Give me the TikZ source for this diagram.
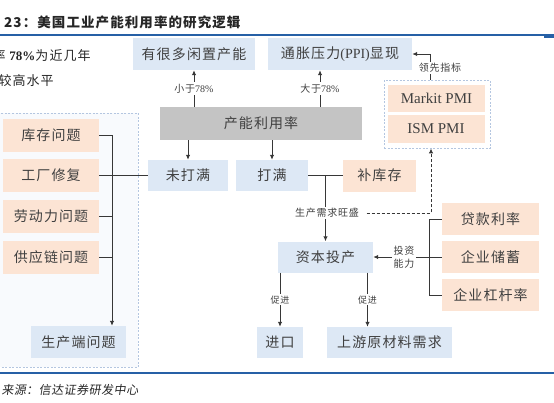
\documentclass[tikz,border=0pt]{standalone}
\usepackage{fontspec}
\setmainfont{Liberation Serif}
\newfontfamily\cjk[LetterSpace=8]{Noto Sans CJK SC}
\newfontfamily\cjkslant[LetterSpace=4,FakeSlant=0.15]{Noto Sans CJK SC}
\usepackage{tikz}
\usetikzlibrary{arrows.meta}

\definecolor{boxblue}{RGB}{221,232,245}
\definecolor{boxpeach}{RGB}{252,228,212}
\definecolor{boxgray}{RGB}{196,196,196}
\definecolor{rulebl}{RGB}{38,96,166}
\definecolor{dashbl}{RGB}{180,198,224}
\definecolor{txt}{RGB}{64,64,64}
\definecolor{linegray}{RGB}{55,55,55}

\begin{document}
\begin{tikzpicture}[
    x=1pt, y=-1pt, % pixel grid of the page, y going down
    box/.style      = {minimum height=32pt, inner sep=0pt, text=txt, font=\cjk\fontsize{14}{16}\selectfont},
    bluebox/.style  = {box, fill=boxblue},
    peachbox/.style = {box, fill=boxpeach},
    graybox/.style  = {box, fill=boxgray},
    pmibox/.style   = {box, fill=boxpeach, minimum width=97pt, minimum height=27pt, font=\rmfamily\fontsize{15}{17}\selectfont},
    grp/.style      = {draw=dashbl, line width=0.8pt, dash pattern=on 2pt off 1.5pt},
    line/.style     = {draw=linegray, line width=1pt},
    arr/.style      = {line, -{Latex[length=5pt,width=4.5pt]}},
    dasharr/.style  = {arr, dash pattern=on 3pt off 2pt},
    lab/.style      = {fill=white, inner sep=1.5pt, text=txt, align=center, font=\cjk\fontsize{10}{13}\selectfont},
    note/.style     = {anchor=base west, text=black!85}
  ]
  \useasboundingbox (0,0) rectangle (554,402);

  % ===== Header and footer =====
  \node[note, font=\cjk\bfseries\fontsize{13.5}{16}\selectfont] (title) at (-17,27) {图 23：美国工业产能利用率的研究逻辑};
  \draw[rulebl, line width=1.5pt] (0,35) -- (554,35);
  \fill[rulebl] (544,34) rectangle (554,37.5);
  \node[note, font=\cjk\fontsize{13}{15}\selectfont] (note1) at (-11,60) {率 {\rmfamily\bfseries 78\%}为近几年};
  \node[note, font=\cjk\fontsize{13}{15}\selectfont] (note2) at (-5,85) {较高水平};
  \draw[rulebl, line width=1.5pt] (0,373) -- (554,373);
  \node[note, font=\cjkslant\fontsize{12}{14}\selectfont] (source) at (-2,394) {来源：信达证券研发中心};

  % ===== Left: supply side problems =====
  \node[grp, fill=boxblue!20, minimum width=140pt, minimum height=254pt] (supplyside) at (68,240) {};
  \foreach \name/\txt/\y in {inventory/库存问题/135.5, factory/工厂修复/175.5, labour/劳动力问题/216.5, supply/供应链问题/257}{
    \node[peachbox, minimum width=96pt, minimum height=33pt] (\name) at (51,\y) {\txt};
  }
  \node[bluebox, minimum width=95pt] (prod) at (78.5,342) {生产端问题};

  \draw[arr] (inventory.east) -| ([xshift=33.5pt]prod.north);
  \foreach \n in {labour, supply}{
    \draw[line] (\n.east) -- ++(13,0);
  }

  % ===== Middle: capacity utilisation =====
  \node[bluebox, minimum width=122pt] (idle) at (194,54) {有很多闲置产能};
  \node[bluebox, minimum width=144pt] (ppi) at (340,54) {通胀压力{\rmfamily (PPI)}显现};
  \node[graybox, minimum width=202pt, minimum height=33pt] (util) at (261,123.5) {产能利用率};
  \node[bluebox, minimum width=80pt, minimum height=31pt] (notfull) at (188,175.5) {未打满};
  \node[bluebox, minimum width=72pt, minimum height=31pt] (full) at (272,175.5) {打满};
  \node[peachbox, minimum width=73pt] (restock) at (379.5,175.5) {补库存};
  \node[bluebox, minimum width=95pt, minimum height=31pt] (capex) at (325.5,257) {资本投产};
  \node[bluebox, minimum width=46pt, minimum height=31pt] (import) at (280,342.5) {进口};
  \node[bluebox, minimum width=125pt, minimum height=31pt] (upstream) at (389.5,342.5) {上游原材料需求};

  \draw[arr] (util.north -| idle.south) -- (idle.south) node[lab, midway] {小于{\rmfamily 78\%}};
  \draw[arr] ([xshift=-20pt]ppi.south |- util.north) -- ([xshift=-20pt]ppi.south) node[lab, midway] {大于{\rmfamily 78\%}};
  \draw[arr] (util.south -| notfull.north) -- (notfull.north);
  \draw[arr] (util.south -| full.north) -- (full.north);
  \draw[line] (notfull.west) -- (factory.east);
  \draw[line] (full.east) -- (restock.west);
  \draw[arr] (full.east -| capex.north) -- (capex.north);
  \node[lab] (demand) at (327,213) {生产需求旺盛};

  \draw[arr] (capex.south -| import.north) -- (import.north) node[lab, midway, font=\cjk\fontsize{9}{11}\selectfont] {促进};
  \draw[arr] ([xshift=-22pt]upstream.north |- capex.south) -- ([xshift=-22pt]upstream.north) node[lab, midway, font=\cjk\fontsize{9}{11}\selectfont] {促进};

  % ===== Right: leading indicators and funding =====
  \node[grp, minimum width=106pt, minimum height=68pt] (pmi) at (437,114) {};
  \node[pmibox] (markit) at (436.5,98.5) {Markit PMI};
  \node[pmibox, minimum height=28pt] (ism) at (436,129) {ISM PMI};

  \draw[arr] ([xshift=-7pt]pmi.north) |- (ppi.east);
  \node[lab] (lead) at (440,68) {领先指标};
  \draw[dasharr, shorten <=6pt] (demand.east) -| ([xshift=-6pt]pmi.south);

  \foreach \name/\txt/\y in {loan/贷款利率/219, saving/企业储蓄/257, leverage/企业杠杆率/295}{
    \node[peachbox, minimum width=97pt] (\name) at (490.5,\y) {\txt};
  }
  \draw[line] (loan.west) -- ++(-12,0) |- (leverage.west);
  \draw[arr] (saving.west) -- (capex.east) node[lab, pos=0.55] {投资\\能力};

\end{tikzpicture}
\end{document}
